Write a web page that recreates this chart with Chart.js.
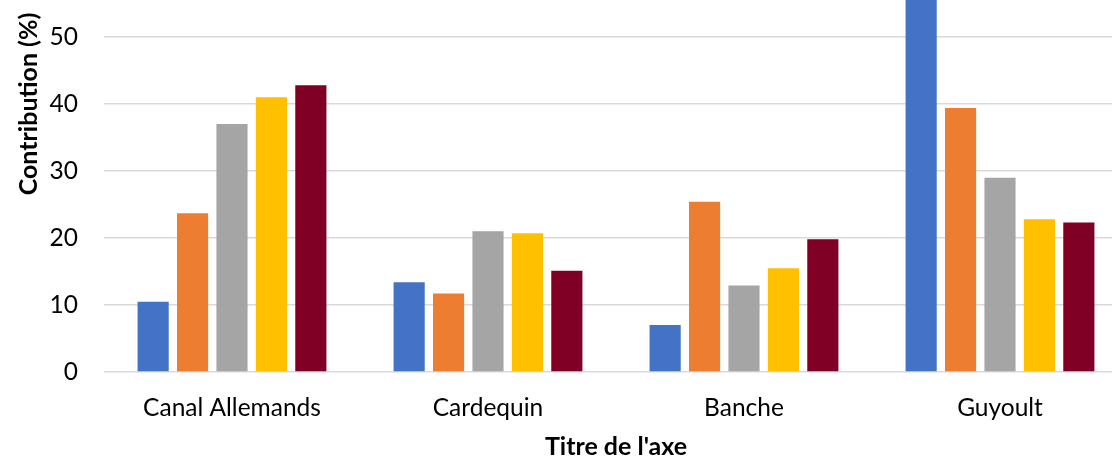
<!DOCTYPE html>
<html>
<head>
<meta charset="utf-8">
<script src="https://cdn.jsdelivr.net/npm/chart.js"></script>
<style>
  html, body { margin: 0; padding: 0; background: #fff; overflow: hidden; width: 1112px; height: 458px; }
  #chart { position: absolute; left: 0; top: -170px; }
</style>
</head>
<body>
<canvas id="chart" width="1135" height="628"></canvas>
<script>
const CATEGORIES = ['Canal Allemands', 'Cardequin', 'Banche', 'Guyoult'];

const SERIES_NAMES = ['Série 1', 'Série 2', 'Série 3', 'Série 4', 'Série 5'];

const SERIES_1 = [10.5, 13.4, 7.0, 58.0];
const SERIES_2 = [23.7, 11.7, 25.4, 39.4];
const SERIES_3 = [37.0, 21.0, 12.9, 29.0];
const SERIES_4 = [41.0, 20.7, 15.5, 22.8];
const SERIES_5 = [42.8, 15.1, 19.8, 22.3];

const Y_MAX = 80;
const Y_STEP = 10;

const COLORS = ['#4472c4', '#ed7d31', '#a5a5a5', '#ffc000', '#7f0024'];

const FONT = 'Lato, Calibri, Carlito, sans-serif';

const datasets = [SERIES_1, SERIES_2, SERIES_3, SERIES_4, SERIES_5].map((values, i) => ({
  label: SERIES_NAMES[i],
  data: values,
  backgroundColor: COLORS[i],
  borderWidth: 0,
  categoryPercentage: 0.77,
  barPercentage: 0.79,
}));

new Chart(document.getElementById('chart').getContext('2d'), {
  type: 'bar',
  data: {
    labels: CATEGORIES,
    datasets,
  },
  options: {
    responsive: false,
    devicePixelRatio: 1,
    animation: false,
    layout: {
      padding: { top: 6, right: 7, left: 16, bottom: 0 }
    },
    plugins: {
      legend: { display: false },
      tooltip: { enabled: false },
    },
    scales: {
      x: {
        grid: { display: false, drawTicks: false },
        border: { display: false },
        ticks: {
          color: '#000',
          padding: 21,
          font: { family: FONT, size: 24.5 },
        },
        title: {
          display: true,
          text: "Titre de l'axe",
          color: '#000',
          padding: 0,
          font: { family: FONT, size: 25, weight: 'bold', lineHeight: 0.9 },
        },
        afterFit: (scale) => {
          // fixed band under the plot, as in the source
          scale.height = 86;
          scale.paddingLeft = 0;
          scale.paddingRight = 0;
        },
      },
      y: {
        min: 0,
        max: Y_MAX,
        grid: { color: '#d9d9d9', lineWidth: 1.5, drawTicks: false },
        border: { display: false },
        ticks: {
          stepSize: Y_STEP,
          color: '#000',
          padding: 26,
          font: { family: FONT, size: 24.5 },
        },
        title: {
          display: true,
          text: 'Contribution (%)',
          color: '#000',
          padding: 0,
          font: { family: FONT, size: 25, weight: 'bold', lineHeight: 1 },
        },
        afterFit: (scale) => {
          scale.width = 88;
          scale.paddingTop = 0;
          scale.paddingBottom = 0;
        },
      },
    },
  },
});
</script>
</body>
</html>
